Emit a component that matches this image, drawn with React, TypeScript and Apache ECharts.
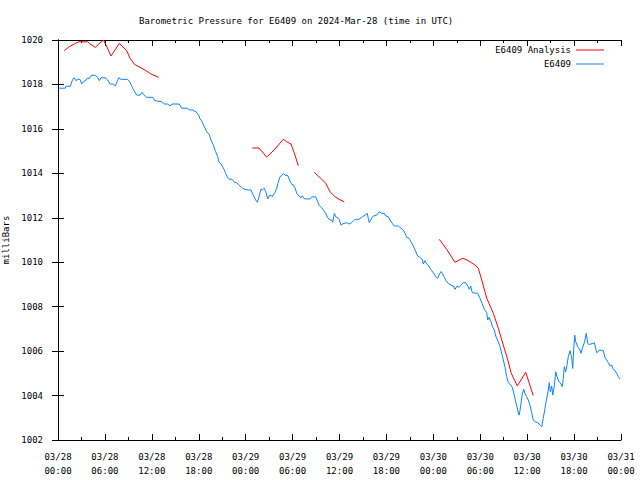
import React, { useEffect, useRef } from "react";
import * as echarts from "echarts";

// hours since 2024-03-28 00:00 UTC
const stationHours = [0.17,0.93,1.02,1.57,1.88,2.08,2.30,2.52,2.81,3.03,3.24,3.58,3.80,4.00,4.26,4.77,5.08,5.28,5.50,6.05,6.36,6.65,7.07,7.33,7.55,7.76,8.06,8.91,9.21,9.46,9.76,10.06,10.49,10.74,10.91,11.34,12.11,12.37,12.75,13.30,13.59,14.03,14.32,14.58,15.51,15.82,16.59,16.79,17.23,17.65,17.99,18.16,18.38,18.71,19.02,19.31,19.57,19.86,20.17,20.42,20.59,20.94,21.14,21.45,21.70,21.87,22.29,22.55,22.85,23.06,23.49,23.83,24.34,24.68,24.98,25.28,25.49,25.71,25.96,26.13,26.38,26.56,26.69,26.82,26.98,27.24,27.41,27.75,27.97,28.17,28.39,28.61,28.81,29.03,29.38,29.67,29.89,30.09,30.31,30.53,30.82,31.08,31.24,31.50,32.23,32.45,32.96,33.21,33.38,33.72,33.93,34.24,34.49,34.79,35.00,35.13,35.34,35.51,35.77,35.94,36.19,36.36,36.92,37.22,37.56,37.98,38.49,38.84,39.26,39.55,39.68,39.81,40.03,40.32,40.76,41.09,41.40,41.73,41.91,42.24,42.46,42.75,43.01,43.52,43.87,44.16,44.38,44.59,44.89,45.14,45.44,45.66,46.00,46.30,46.59,46.72,46.93,47.15,47.36,47.57,47.79,48.12,48.30,48.56,48.73,48.98,49.15,49.40,49.62,49.91,50.26,50.55,50.77,51.03,51.28,51.54,51.83,52.14,52.40,52.60,52.78,52.98,53.67,53.97,54.26,54.52,54.83,54.95,55.12,55.38,55.54,55.80,55.98,56.31,56.53,56.74,56.95,57.17,57.38,57.59,57.93,58.10,58.35,58.53,58.79,58.96,59.08,59.21,59.38,59.56,59.72,59.94,60.14,60.36,60.58,60.78,61.00,61.35,61.64,61.86,62.06,62.28,62.50,62.70,62.83,62.96,63.14,63.27,63.47,63.65,63.82,64.07,64.33,64.49,64.62,64.75,64.93,65.09,65.26,65.48,65.70,65.82,65.95,66.08,66.21,66.46,66.76,66.89,67.05,67.31,67.56,67.74,67.91,68.46,68.59,68.89,69.10,69.31,69.74,69.95,70.17,70.38,70.59,70.81,71.02,71.24,71.45,71.66,71.84];
const stationPressure = [1017.83,1017.83,1017.92,1017.92,1018.23,1018.30,1018.17,1018.23,1018.23,1018.02,1018.12,1018.20,1018.30,1018.26,1018.41,1018.41,1018.30,1018.17,1018.30,1018.30,1018.20,1018.02,1018.02,1017.93,1018.12,1018.30,1018.23,1018.23,1018.10,1017.90,1017.70,1017.52,1017.52,1017.65,1017.56,1017.42,1017.42,1017.27,1017.25,1017.22,1017.12,1017.12,1017.03,1017.12,1017.12,1016.93,1016.93,1016.85,1016.85,1016.77,1016.62,1016.45,1016.36,1016.10,1015.87,1015.76,1015.50,1015.27,1014.97,1014.75,1014.52,1014.37,1014.25,1014.00,1013.80,1013.74,1013.73,1013.60,1013.58,1013.50,1013.35,1013.29,1013.25,1013.25,1013.02,1012.80,1012.70,1012.95,1013.29,1013.25,1013.33,1013.18,1013.02,1012.85,1012.98,1013.02,1012.95,1013.15,1013.33,1013.60,1013.85,1013.90,1014.00,1013.92,1013.90,1013.65,1013.50,1013.47,1013.35,1013.10,1012.98,1012.90,1012.99,1012.85,1012.85,1012.94,1012.94,1012.73,1012.57,1012.45,1012.35,1012.20,1012.00,1011.90,1011.90,1011.80,1012.20,1012.05,1012.00,1011.94,1011.67,1011.72,1011.78,1011.72,1011.78,1011.93,1011.93,1012.02,1012.12,1012.20,1011.97,1011.78,1011.93,1012.08,1012.12,1012.27,1012.20,1012.20,1012.08,1012.05,1011.90,1011.75,1011.63,1011.63,1011.52,1011.45,1011.30,1011.12,1011.08,1010.92,1010.73,1010.55,1010.28,1010.22,1010.13,1009.92,1010.07,1009.92,1009.86,1009.73,1009.62,1009.47,1009.35,1009.28,1009.43,1009.58,1009.50,1009.32,1009.17,1009.05,1008.97,1008.93,1008.78,1008.93,1008.87,1008.97,1009.08,1009.08,1008.93,1008.78,1008.93,1008.63,1008.60,1008.38,1008.12,1007.88,1007.73,1007.40,1007.52,1007.32,1007.13,1006.95,1006.68,1006.42,1006.20,1005.90,1005.60,1005.27,1004.85,1004.58,1004.47,1004.37,1004.02,1003.72,1003.35,1003.12,1003.32,1003.65,1004.07,1004.28,1004.10,1003.95,1003.80,1003.57,1003.23,1002.90,1002.82,1002.78,1002.67,1002.60,1002.98,1003.43,1003.88,1004.25,1004.58,1004.17,1004.43,1004.02,1004.43,1005.07,1004.85,1004.62,1004.52,1004.40,1004.78,1005.30,1005.07,1005.37,1005.75,1006.02,1005.68,1005.22,1006.05,1006.72,1006.42,1006.20,1006.05,1005.90,1006.12,1006.38,1006.80,1006.35,1006.30,1006.35,1006.38,1005.93,1005.98,1006.05,1006.02,1005.72,1005.60,1005.48,1005.33,1005.37,1005.18,1005.12,1005.00,1004.85,1004.74];

const analysisHours1 = [0.81,1.45,2.08,2.65,3.80,4.00,4.77,5.79,6.14,6.78,7.84,8.79,9.21,9.76,10.49,11.25,11.89,12.88];
const analysisPressure1 = [1019.52,1019.70,1019.82,1019.92,1019.92,1019.85,1019.67,1020.00,1019.78,1019.28,1019.85,1019.52,1019.18,1018.91,1018.77,1018.62,1018.47,1018.32];
const analysisHours2 = [24.85,25.71,26.69,27.75,28.81,29.25,29.80,30.31,30.73];
const analysisPressure2 = [1015.14,1015.14,1014.73,1015.09,1015.53,1015.42,1015.32,1014.82,1014.34];
const analysisHours3 = [32.78,33.72,34.24,34.79,35.42,36.06,36.61];
const analysisPressure3 = [1014.04,1013.74,1013.55,1013.17,1012.95,1012.81,1012.72];
const analysisHours4 = [48.76,49.71,50.77,51.76,52.47,53.33,53.75,54.19,54.83,55.67,56.31,56.95,57.59,57.93,58.74,59.81,60.78];
const analysisPressure4 = [1011.03,1010.58,1010.00,1010.18,1010.07,1009.87,1009.73,1009.20,1008.38,1007.70,1007.03,1006.27,1005.52,1005.03,1004.43,1005.05,1004.00];

const startDay = 28;
const hourTicks = 6;

const FONT = "DejaVu Sans Mono";

export default function App() {
  const ref = useRef<HTMLDivElement>(null);
  useEffect(() => {
    if (!ref.current) return;
    const chart = echarts.init(ref.current, null, { renderer: "svg" });
    const station = stationHours.map((h, i) => [h, stationPressure[i]]);
    const segs = [
      [analysisHours1, analysisPressure1],
      [analysisHours2, analysisPressure2],
      [analysisHours3, analysisPressure3],
      [analysisHours4, analysisPressure4],
    ];
    const analysis: any[] = [];
    segs.forEach(([hs, ps], k) => {
      if (k > 0) analysis.push([hs[0] - 0.5, "-"]);
      hs.forEach((h, i) => analysis.push([h, ps[i]]));
    });
    const fmtX = (v: number) => {
      const d = startDay + Math.floor(v / 24);
      const hh = Math.round(v % 24);
      return `03/${String(d).padStart(2, "0")}\n${String(hh).padStart(2, "0")}:00`;
    };
    const axisCommon = {
      axisLine: { show: true, lineStyle: { color: "#000", width: 1 } },
      axisTick: { show: true, inside: true, length: 6, lineStyle: { color: "#000" } },
      splitLine: { show: false },
    };
    chart.setOption({
      animation: false,
      backgroundColor: "#fff",
      title: {
        text: "Barometric Pressure for E6409 on 2024-Mar-28 (time in UTC)",
        left: 134,
        top: 11,
        textStyle: { fontFamily: FONT, fontSize: 9, fontWeight: "normal", color: "#000" },
      },
      legend: {
        orient: "vertical",
        right: 31,
        top: 40,
        align: "right",
        icon: "rect",
        itemWidth: 28,
        itemHeight: 1,
        itemGap: 4,
        textStyle: { fontFamily: FONT, fontSize: 9, color: "#000", lineHeight: 10 },
        data: ["E6409 Analysis", "E6409"],
      },
      grid: { left: 58, right: 19, top: 40, bottom: 40, containLabel: false, outerBoundsMode: "none" },
      xAxis: [
        {
          type: "value",
          min: 0,
          max: 72,
          interval: hourTicks,
          ...axisCommon,
          minorTick: { show: true, splitNumber: 2, length: 3, lineStyle: { color: "#000" } },
          axisLabel: {
            formatter: fmtX,
            fontFamily: FONT,
            fontSize: 9,
            color: "#000",
            lineHeight: 14,
            margin: 10,
          },
        },
        {
          type: "value",
          position: "top",
          min: 0,
          max: 72,
          interval: hourTicks,
          ...axisCommon,
          minorTick: { show: true, splitNumber: 2, length: 3, lineStyle: { color: "#000" } },
          axisLabel: { show: false },
        },
      ],
      yAxis: [
        {
          type: "value",
          min: 1002,
          max: 1020,
          interval: 2,
          ...axisCommon,
          name: "milliBars",
          nameLocation: "middle",
          nameRotate: 90,
          nameGap: 44,
          nameTextStyle: { fontFamily: FONT, fontSize: 9, color: "#000" },
          axisLabel: { fontFamily: FONT, fontSize: 9, color: "#000", margin: 15, formatter: (v: number) => String(v) },
        },
        {
          type: "value",
          position: "right",
          min: 1002,
          max: 1020,
          interval: 2,
          ...axisCommon,
          axisLabel: { show: false },
        },
      ],
      series: [
        {
          name: "E6409 Analysis",
          type: "line",
          data: analysis,
          symbol: "none",
          connectNulls: false,
          lineStyle: { color: "#ff0000", width: 1 },
          itemStyle: { color: "#ff0000" },
        },
        {
          name: "E6409",
          type: "line",
          data: station,
          symbol: "none",
          lineStyle: { color: "#0a84ff", width: 1 },
          itemStyle: { color: "#0a84ff" },
        },
      ],
    });
    return () => chart.dispose();
  }, []);
  return <div ref={ref} style={{ width: 640, height: 480, position: "absolute", left: 0, top: 0 }} />;
}
